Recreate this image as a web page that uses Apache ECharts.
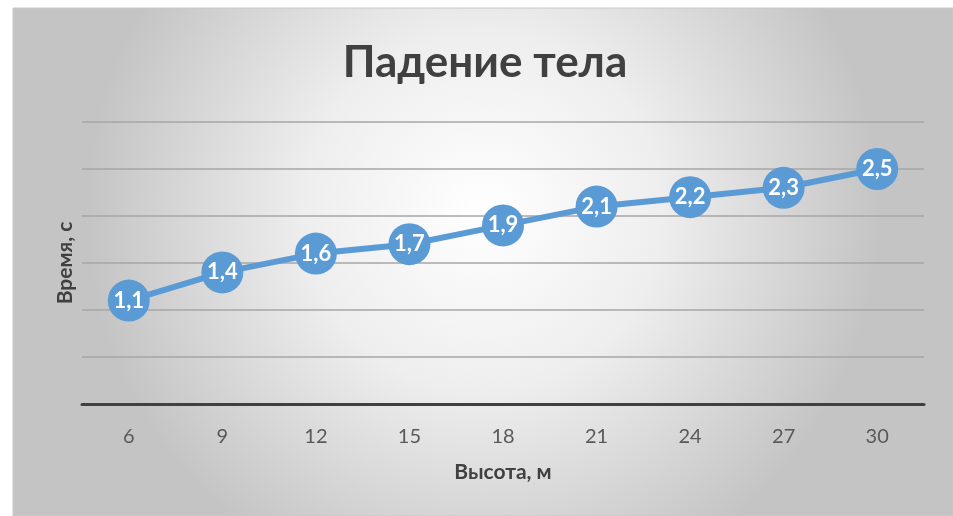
<!DOCTYPE html>
<html><head><meta charset="utf-8">
<script src="https://cdn.jsdelivr.net/npm/echarts@6/dist/echarts.min.js"></script>
<style>html,body{margin:0;padding:0;background:#fff}#c{width:953px;height:516px}</style>
</head><body><div id="c"></div>
<script>
const categories = ['6','9','12','15','18','21','24','27','30'];
const times = [1.1, 1.4, 1.6, 1.7, 1.9, 2.1, 2.2, 2.3, 2.5];
const titleText = 'Падение тела';
const xName = 'Высота, м';
const yName = 'Время, с';

const chart = echarts.init(document.getElementById('c'));
chart.setOption({
  animation: false,
  graphic: [{
    type: 'rect', z: -10, silent: true,
    shape: {x: 13, y: 8, width: 940, height: 508},
    style: {
      fill: new echarts.graphic.RadialGradient(0.5, 0.4, 0.78, [
        {offset: 0, color: '#ffffff'},
        {offset: 0.45, color: '#eeeeee'},
        {offset: 1, color: '#c4c4c4'}
      ]),
      stroke: '#c8c8c8', lineWidth: 1
    }
  }],
  title: {
    text: titleText, left: 480, textAlign: 'center', top: 36,
    textStyle: {fontFamily: 'Lato', fontWeight: 'bold', fontSize: 44, color: '#404040'}
  },
  grid: {left: 82, right: 29, top: 122, bottom: 112, containLabel: false},
  xAxis: {
    type: 'category', data: categories, boundaryGap: true,
    name: xName, nameLocation: 'middle', nameGap: 58,
    nameTextStyle: {fontFamily: 'Lato', fontWeight: 'bold', fontSize: 21, color: '#404040'},
    axisLine: {lineStyle: {color: '#404040', width: 3}},
    axisTick: {show: false},
    axisLabel: {fontFamily: 'Lato', fontSize: 20, color: '#595959', margin: 23}
  },
  yAxis: {
    type: 'value', min: 0, max: 3, interval: 0.5,
    name: yName, nameLocation: 'middle', nameGap: 6, nameRotate: 90,
    nameTextStyle: {fontFamily: 'Lato', fontWeight: 'bold', fontSize: 21, color: '#404040'},
    axisLine: {show: false}, axisTick: {show: false},
    axisLabel: {show: false},
    splitLine: {lineStyle: {color: '#a6a6a6', width: 1.5}}
  },
  series: [{
    type: 'line', data: times,
    symbol: 'circle', symbolSize: 42,
    lineStyle: {color: '#5b9bd5', width: 6},
    itemStyle: {color: '#5b9bd5'},
    label: {
      show: true, position: 'inside',
      fontFamily: 'Lato', fontWeight: 'bold', fontSize: 22, color: '#ffffff',
      formatter: p => String(p.value).replace('.', ',')
    }
  }]
});
</script></body></html>
